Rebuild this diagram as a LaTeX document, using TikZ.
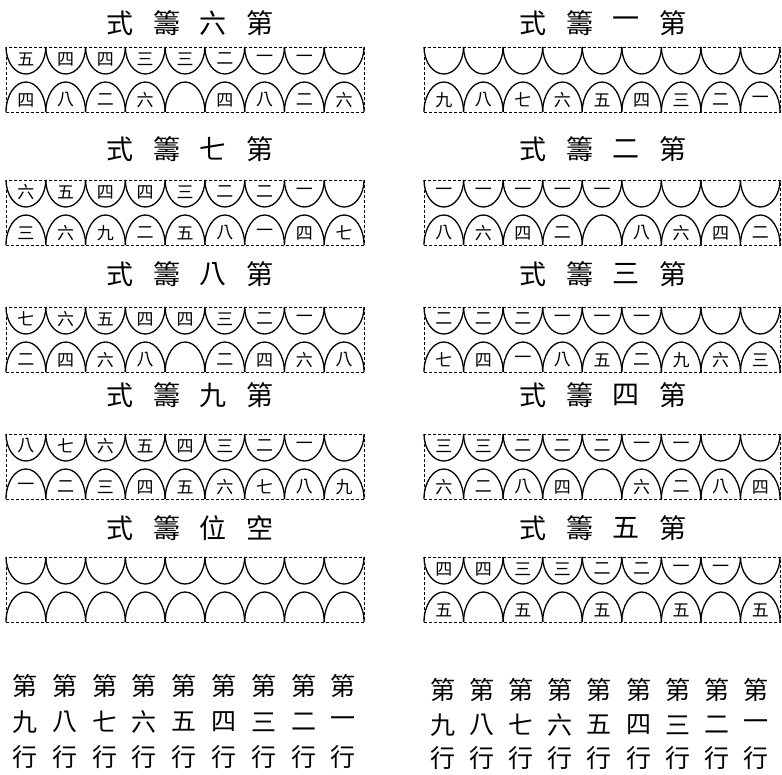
\documentclass[tikz,border=0pt]{standalone}
\usepackage{fontspec}
\newfontfamily\cjk{Noto Sans CJK TC}
\tikzset{
  rim/.style={line width=0.7pt, densely dashed},
  cup/.style={line width=1.3pt},
  numtxt/.style={font=\cjk\fontsize{17}{17}\selectfont, inner sep=0pt},
  ttl/.style={font=\cjk\fontsize{27}{27}\selectfont, inner sep=0pt},
  lbl/.style={font=\cjk\fontsize{25}{25}\selectfont, inner sep=0pt},
}
% #1 name, #2 x0, #3 cell width, #4 top, #5 tens (left to right), #6 units
\newcommand\rodstrip[6]{%
  \begin{scope}[shift={(#2,#4)}]
    \draw[rim] (0,0) rectangle (9*#3,65);
    \foreach \d [count=\i from 0] in {#5} {
      \draw[cup] (\i*#3,0) arc[start angle=180, end angle=0, x radius=#3/2, y radius=27];
      \node[numtxt] (#1t\i) at (\i*#3+#3/2,12) {\d};
    }
    \foreach \d [count=\i from 0] in {#6} {
      \draw[cup] (\i*#3,65) arc[start angle=180, end angle=360, x radius=#3/2, y radius=30];
      \node[numtxt] (#1u\i) at (\i*#3+#3/2,53) {\d};
    }
  \end{scope}}
% #1 name, #2 centre x, #3 y, #4..#7 characters
\newcommand\rodtitle[7]{%
  \node[ttl] (#1a) at (#2-70,#3) {#4};
  \node[ttl] (#1b) at (#2-23,#3) {#5};
  \node[ttl] (#1c) at (#2+23,#3) {#6};
  \node[ttl] (#1d) at (#2+70,#3) {#7};}
\begin{document}
\begin{tikzpicture}[x=1pt,y=-1pt]
  \fill[white] (0,0) rectangle (782,774);
  \useasboundingbox (0,0) rectangle (782,774);
  % left column
  \rodtitle{tsix}{190}{23}{式}{籌}{六}{第}
  \rodstrip{six}{6}{39.78}{47}{五,四,四,三,三,二,一,一,{}}{四,八,二,六,{},四,八,二,六}
  \rodtitle{tseven}{190}{149}{式}{籌}{七}{第}
  \rodstrip{seven}{6}{39.78}{180}{六,五,四,四,三,二,二,一,{}}{三,六,九,二,五,八,一,四,七}
  \rodtitle{teight}{190}{274}{式}{籌}{八}{第}
  \rodstrip{eight}{6}{39.78}{307}{七,六,五,四,四,三,二,一,{}}{二,四,六,八,{},二,四,六,八}
  \rodtitle{tnine}{190}{395}{式}{籌}{九}{第}
  \rodstrip{nine}{6}{39.78}{434}{八,七,六,五,四,三,二,一,{}}{一,二,三,四,五,六,七,八,九}
  \rodtitle{tzero}{190}{528}{式}{籌}{位}{空}
  \rodstrip{zero}{6}{39.78}{557}{{},{},{},{},{},{},{},{},{}}{{},{},{},{},{},{},{},{},{}}
  % right column
  \rodtitle{tone}{603}{23}{式}{籌}{一}{第}
  \rodstrip{one}{424}{39.56}{47}{{},{},{},{},{},{},{},{},{}}{九,八,七,六,五,四,三,二,一}
  \rodtitle{ttwo}{603}{149}{式}{籌}{二}{第}
  \rodstrip{two}{424}{39.56}{180}{一,一,一,一,一,{},{},{},{}}{八,六,四,二,{},八,六,四,二}
  \rodtitle{tthree}{603}{274}{式}{籌}{三}{第}
  \rodstrip{three}{424}{39.56}{307}{二,二,二,一,一,一,{},{},{}}{七,四,一,八,五,二,九,六,三}
  \rodtitle{tfour}{603}{395}{式}{籌}{四}{第}
  \rodstrip{four}{424}{39.56}{434}{三,三,二,二,二,一,一,{},{}}{六,二,八,四,{},六,二,八,四}
  \rodtitle{tfive}{603}{528}{式}{籌}{五}{第}
  \rodstrip{five}{424}{39.56}{557}{四,四,三,三,二,二,一,一,{}}{五,{},五,{},五,{},五,{},五}
  % row labels
  \foreach \n [count=\i from 0] in {九,八,七,六,五,四,三,二,一} {
    \node[lbl] (la\i) at (25+\i*39.8,686) {第};
    \node[lbl] (lb\i) at (25+\i*39.8,722) {\n};
    \node[lbl] (lc\i) at (25+\i*39.8,757) {行};
    \node[lbl] (ra\i) at (443+\i*39.1,690) {第};
    \node[lbl] (rb\i) at (443+\i*39.1,725) {\n};
    \node[lbl] (rc\i) at (443+\i*39.1,758) {行};
  }
\end{tikzpicture}
\end{document}
